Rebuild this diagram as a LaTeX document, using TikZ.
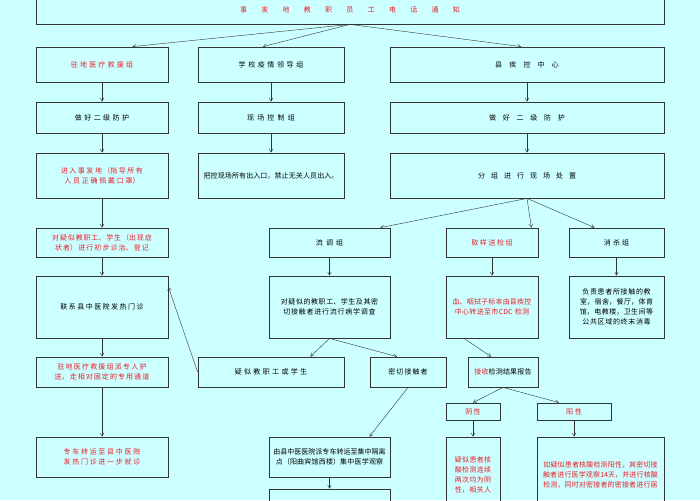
\documentclass[tikz,border=0pt]{standalone}
\usepackage{fontspec}
\newfontfamily\cjk{Noto Sans CJK SC}
\XeTeXlinebreaklocale "zh"
\XeTeXlinebreakskip=0pt plus 1pt
\usetikzlibrary{arrows}
\definecolor{bgcyan}{HTML}{CCFFFF}
\definecolor{txtred}{HTML}{E8202A}
\tikzset{
  box/.style={draw=black!80, thick, align=center, font=\cjk\fontsize{7}{10}\selectfont, inner sep=2pt},
  redbox/.style={box, text=txtred},
  arr/.style={->, >=angle 60, black!80}
}
\newcommand{\bx}[6]{%
  \pgfmathsetmacro\bw{#4-#3}\pgfmathsetmacro\tw{#4-#3-8}\pgfmathsetmacro\bh{#6-#5}%
  \node[#1, minimum width=\bw pt, minimum height=\bh pt, text width=\tw pt] (#2) at ({(#3+#4)/2},{(#5+#6)/2})}
\begin{document}
\begin{tikzpicture}[x=1pt, y=-1pt]
  \fill[bgcyan] (0,0) rectangle (700,500);
  \clip (0,0) rectangle (700,500);

  \bx{redbox}{notice}{36}{664}{-4}{24} {事发地教职员工电话通知};

  \bx{redbox}{medic}{36}{168}{47}{82} {驻地医疗救援组};
  \bx{box}{lead}{198}{344}{47}{82} {学校疫情领导组};
  \bx{box}{cdc}{390}{664}{47}{82} {县疾控中心};

  \bx{box}{protA}{36}{168}{102}{133} {做好二级防护};
  \bx{box}{site}{198}{344}{102}{133} {现场控制组};
  \bx{box}{protB}{390}{664}{102}{133} {做好二级防护};

  \bx{redbox}{enter}{36}{168}{153}{198} {进入事发地（指导所有人员正确佩戴口罩）};
  \bx{box}{gate}{198}{344}{153}{198} {把控现场所有出入口，禁止无关人员出入。};
  \bx{box}{split}{390}{664}{153}{198} {分组进行现场处置};

  \bx{redbox}{triage}{36}{168}{228}{257} {对疑似教职工、学生（出现症状者）进行初步诊治、登记};
  \bx{box}{epi}{269}{390}{228}{257} {流调组};
  \bx{redbox}{sample}{446}{538}{228}{257} {取样送检组};
  \bx{box}{disinf}{569}{664}{228}{257} {消杀组};

  \bx{box}{clinic}{36}{168}{276}{338} {联系县中医院发热门诊};
  \bx{box}{survey}{269}{390}{276}{338} {对疑似的教职工、学生及其密切接触者进行流行病学调查};
  \bx{redbox}{blood}{446}{538}{276}{338} {血、咽拭子标本由县疾控中心转送至市CDC 检测};
  \bx{box}{clean}{569}{664}{276}{338} {负责患者所接触的教室，宿舍，餐厅，体育馆，电教楼，卫生间等公共区域的终末消毒};

  \bx{redbox}{escort}{36}{168}{357}{387} {驻地医疗救援组派专人护送，走相对固定的专用通道};
  \bx{box}{suspect}{198}{344}{357}{387} {疑似教职工或学生};
  \bx{box}{contact}{370}{446}{357}{387} {密切接触者};
  \bx{box}{report}{468}{538}{357}{387} {\textcolor{txtred}{接收}检测结果报告};

  \bx{redbox}{neg}{446}{500}{403}{420} {阴性};
  \bx{redbox}{pos}{537}{611}{403}{420} {阳性};

  \bx{redbox}{transfer}{36}{168}{437}{477} {专车转运至县中医院发热门诊进一步就诊};
  \bx{box}{isolate}{269}{390}{437}{477} {由县中医医院派专车转运至集中隔离点（阳曲宾馆西楼）集中医学观察};
  \bx{redbox}{negres}{446}{500}{437}{512} {疑似患者核酸检测连续两次均为阴性，相关人};
  \bx{redbox}{posres}{537}{664}{437}{512} {如疑似患者核酸检测阳性，其密切接触者进行医学观察14天，并进行核酸检测，同时对密接者的密接者进行居};
  \bx{box}{next}{269}{390}{489}{520} {};

  % connectors
  \draw[arr] (notice.south) -- ([xshift=-36pt]medic.north east);
  \draw[arr] (notice.south) -- ([xshift=-8pt]lead.north);
  \draw[arr] (notice.south) -- ([xshift=-6pt]cdc.north);
  \foreach \a/\b in {medic/protA, lead/site, cdc/protB, protA/enter, site/gate, protB/split,
                     enter/triage, triage/clinic, clinic/escort, escort/transfer, epi/survey,
                     sample/blood, disinf/clean, isolate/next}
    \draw[arr] (\a) -- (\b);
  \draw[arr] (split.south) -- ([xshift=-10pt]epi.north east);
  \draw[arr] (split.south) -- ([xshift=-7pt]sample.north east);
  \draw[arr] (split.south) -- ([xshift=-22pt]disinf.north);
  \draw[arr] (survey.south) -- ([xshift=-34pt]suspect.north east);
  \draw[arr] (survey.south) -- ([xshift=-11pt]contact.north);
  \draw[arr] (contact.south) -- ([xshift=40pt]isolate.north);
  \draw[arr] ([xshift=-28pt]blood.south) -- ([xshift=-12pt]report.north);
  \draw[arr] (report.south) -- (neg.north);
  \draw[arr] (report.south) -- ([xshift=-15pt]pos.north);
  \draw[arr] (neg) -- (negres);
  \draw[arr] (pos.south) -- (pos.south |- posres.north);
  \draw[arr] (suspect.west) -- ([yshift=20pt]clinic.east);
\end{tikzpicture}
\end{document}
